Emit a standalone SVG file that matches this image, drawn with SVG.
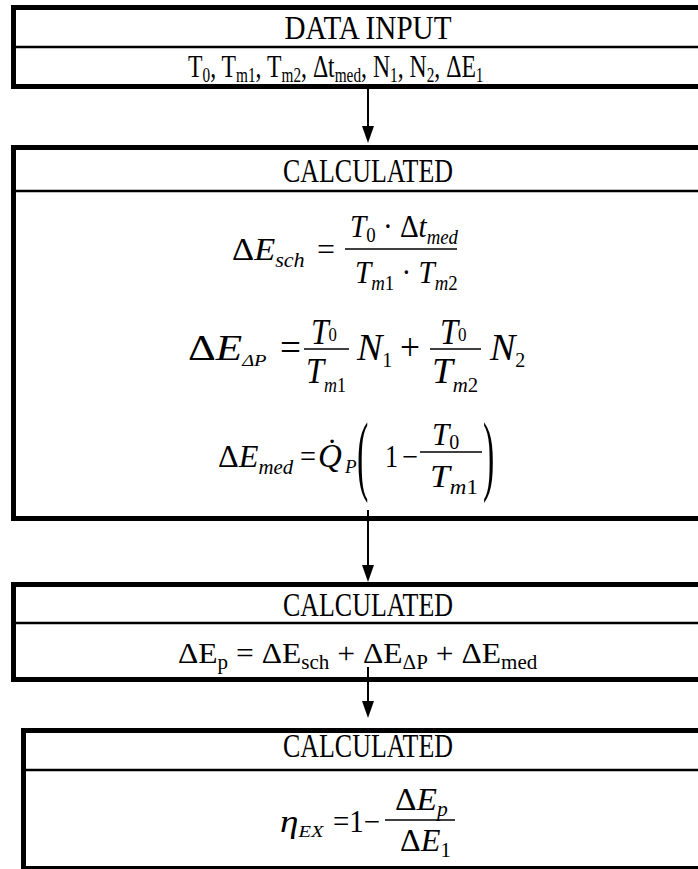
<svg xmlns="http://www.w3.org/2000/svg" width="698" height="869" viewBox="0 0 698 869">
<defs>
<style>
text{font-family:"Liberation Serif","Times New Roman",serif;fill:#000}
.box{fill:none;stroke:#000;stroke-width:5}
.div{stroke:#000;stroke-width:2.5}
.bar{stroke:#000;stroke-width:1.6}
.conn{stroke:#000;stroke-width:2;fill:none}
.h{font-size:33px}
.i{font-style:italic}
</style>
<marker id="ah" markerUnits="userSpaceOnUse" markerWidth="18" markerHeight="14" viewBox="0 0 18 14" refX="11" refY="7" orient="auto">
<path d="M0,1 L17,7 L0,13 z" fill="#000"/>
</marker>
</defs>
<rect width="698" height="869" fill="#fff"/>

<g id="input">
<rect class="box" x="13.5" y="7.5" width="720" height="79"/>
<line class="div" x1="11" y1="47" x2="698" y2="47"/>
<text class="h" x="368" y="39" text-anchor="middle" textLength="167" lengthAdjust="spacingAndGlyphs">DATA INPUT</text>
<text transform="translate(188 77) scale(0.765 1)" font-size="31">T<tspan font-size="20" dy="5">0</tspan><tspan dy="-5">, T</tspan><tspan font-size="20" dy="5">m1</tspan><tspan dy="-5">, T</tspan><tspan font-size="20" dy="5">m2</tspan><tspan dy="-5">, Δt</tspan><tspan font-size="20" dy="5">med</tspan><tspan dy="-5">, N</tspan><tspan font-size="20" dy="5">1</tspan><tspan dy="-5">, N</tspan><tspan font-size="20" dy="5">2</tspan><tspan dy="-5">, ΔE</tspan><tspan font-size="20" dy="5">1</tspan></text>
</g>

<g id="calc1">
<rect class="box" x="13.5" y="147.5" width="720" height="371"/>
<line class="div" x1="11" y1="191" x2="698" y2="191"/>
<text class="h" x="368" y="182" text-anchor="middle" textLength="170" lengthAdjust="spacingAndGlyphs">CALCULATED</text>
<!-- formula 1 -->
<text transform="translate(232 260) scale(1.11 1)" font-size="31">Δ<tspan class="i">E</tspan><tspan class="i" font-size="20" dy="7">sch</tspan></text>
<text x="317" y="260" font-size="31" textLength="18" lengthAdjust="spacingAndGlyphs">=</text>
<text transform="translate(350 237) scale(0.94 1)" font-size="31"><tspan class="i">T</tspan><tspan font-size="20" dy="5">0</tspan><tspan dy="-5"> · Δ</tspan><tspan class="i">t</tspan><tspan class="i" font-size="20" dy="7">med</tspan></text>
<line class="bar" x1="345" y1="249" x2="457" y2="249"/>
<text transform="translate(355 283) scale(0.94 1)" font-size="31"><tspan class="i">T</tspan><tspan class="i" font-size="20" dy="7">m</tspan><tspan font-size="20">1</tspan><tspan dy="-7"> · </tspan><tspan class="i">T</tspan><tspan class="i" font-size="20" dy="7">m</tspan><tspan font-size="20">2</tspan></text>
<!-- formula 2 -->
<text transform="translate(188 360) scale(1.2 1)" font-size="36">Δ<tspan class="i">E</tspan><tspan class="i" font-size="17" dy="6">ΔP</tspan></text>
<text x="280" y="360" font-size="37" textLength="21" lengthAdjust="spacingAndGlyphs">=</text>
<text transform="translate(311 344) scale(0.88 1)" font-size="36"><tspan class="i">T</tspan><tspan font-size="19" dy="-3">0</tspan></text>
<line class="bar" x1="304" y1="349" x2="349" y2="349"/>
<text transform="translate(306 383) scale(0.9 1)" font-size="36"><tspan class="i">T</tspan><tspan class="i" font-size="20" dy="9">m</tspan><tspan font-size="20">1</tspan></text>
<text transform="translate(357 360)" font-size="38"><tspan class="i">N</tspan><tspan font-size="20" dy="7">1</tspan></text>
<text x="400" y="360" font-size="37" textLength="20" lengthAdjust="spacingAndGlyphs">+</text>
<text transform="translate(440 344) scale(0.9 1)" font-size="36"><tspan class="i">T</tspan><tspan font-size="19" dy="-3">0</tspan></text>
<line class="bar" x1="430" y1="349" x2="481" y2="349"/>
<text transform="translate(432 383) scale(1.04 1)" font-size="36"><tspan class="i">T</tspan><tspan class="i" font-size="20" dy="9">m</tspan><tspan font-size="20">2</tspan></text>
<text transform="translate(490 360)" font-size="38"><tspan class="i">N</tspan><tspan font-size="20" dy="7">2</tspan></text>
<!-- formula 3 -->
<text transform="translate(218 467) scale(1.04 1)" font-size="31">Δ<tspan class="i">E</tspan><tspan class="i" font-size="20" dy="7">med</tspan></text>
<text x="300" y="467" font-size="31" textLength="16" lengthAdjust="spacingAndGlyphs">=</text>
<text x="318" y="467" font-size="33" class="i">Q̇</text>
<text x="345" y="473" font-size="19" class="i">P</text>
<text transform="translate(357 484) scale(1 2.6)" font-size="34">(</text>
<text x="385" y="467" font-size="31" textLength="13" lengthAdjust="spacingAndGlyphs">1</text>
<text x="402" y="467" font-size="31" textLength="16" lengthAdjust="spacingAndGlyphs">−</text>
<text transform="translate(432 445)" font-size="31"><tspan class="i">T</tspan><tspan font-size="20" dy="4">0</tspan></text>
<line class="bar" x1="420" y1="452" x2="482" y2="452"/>
<text transform="translate(430 487) scale(1.15 1)" font-size="31"><tspan class="i">T</tspan><tspan class="i" font-size="20" dy="7">m</tspan><tspan font-size="20">1</tspan></text>
<text transform="translate(483 484) scale(1 2.6)" font-size="34">)</text>
</g>

<g id="calc2">
<rect class="box" x="13.5" y="584.5" width="720" height="95"/>
<line class="div" x1="11" y1="623" x2="698" y2="623"/>
<text class="h" x="368" y="616" text-anchor="middle" textLength="170" lengthAdjust="spacingAndGlyphs">CALCULATED</text>
<text transform="translate(178 663) scale(1.053 1)" font-size="30">ΔE<tspan font-size="20" dy="6">p</tspan><tspan dy="-6"> = ΔE</tspan><tspan font-size="20" dy="6">sch</tspan><tspan dy="-6"> + ΔE</tspan><tspan font-size="20" dy="6">ΔP</tspan><tspan dy="-6"> + ΔE</tspan><tspan font-size="20" dy="6">med</tspan></text>
</g>

<g id="calc3">
<rect class="box" x="23.5" y="730.5" width="720" height="138"/>
<line class="div" x1="21" y1="770" x2="698" y2="770"/>
<text class="h" x="368" y="757" text-anchor="middle" textLength="170" lengthAdjust="spacingAndGlyphs">CALCULATED</text>
<text transform="translate(280 832) scale(1.2 1)" font-size="31" class="i">η<tspan font-size="17" dy="5">EX</tspan></text>
<text x="333" y="832" font-size="31" textLength="47" lengthAdjust="spacingAndGlyphs">=1−</text>
<line class="bar" x1="385" y1="820" x2="455" y2="820"/>
<text transform="translate(395 810) scale(1.08 1)" font-size="31">Δ<tspan class="i">E</tspan><tspan class="i" font-size="20" dy="6">p</tspan></text>
<text transform="translate(400 851) scale(1.04 1)" font-size="31">Δ<tspan class="i">E</tspan><tspan font-size="20" dy="6">1</tspan></text>
</g>

<g id="connectors">
<line class="conn" x1="368" y1="89" x2="368" y2="137" marker-end="url(#ah)"/>
<line class="conn" x1="368" y1="510" x2="368" y2="576" marker-end="url(#ah)"/>
<line class="conn" x1="368" y1="667" x2="368" y2="712" marker-end="url(#ah)"/>
</g>
</svg>
